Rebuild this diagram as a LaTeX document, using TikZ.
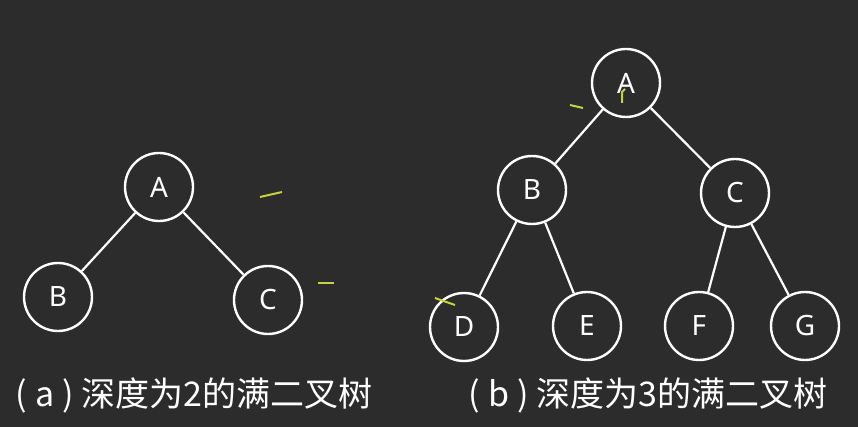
\documentclass[tikz,border=0pt]{standalone}
\usepackage{fontspec}
\setmainfont{Noto Sans}
\newfontfamily\cjk{Noto Sans CJK SC}
\definecolor{bg}{HTML}{2C2C2C}
\definecolor{mark}{HTML}{C8D23C}
\begin{document}
\begin{tikzpicture}[x=1pt,y=-1pt,
  tn/.style={circle,draw=white,line width=2.4pt,minimum size=68pt,inner sep=0pt,text=white,font=\fontsize{28}{28}\selectfont},
  edge/.style={draw=white,line width=2.2pt},
  captext/.style={text=white,anchor=west,inner sep=0pt,font=\cjk\fontsize{34}{34}\selectfont},
  ymark/.style={draw=mark,line width=2pt}]
\fill[bg] (0,0) rectangle (858,427);
\useasboundingbox (0,0) rectangle (858,427);
% tree a
\node[tn] (aA) at (159,187) {A};
\node[tn] (aB) at (58,297) {B};
\node[tn] (aC) at (268,300) {C};
\draw[edge] (aA) -- (aB);
\draw[edge] (aA) -- (aC);
% tree b
\node[tn] (bA) at (626,83) {A};
\node[tn] (bB) at (532,190) {B};
\node[tn] (bC) at (735,193) {C};
\node[tn] (bD) at (464,327) {D};
\node[tn] (bE) at (587,326) {E};
\node[tn] (bF) at (699,326) {F};
\node[tn] (bG) at (805,326) {G};
\draw[edge] (bA) -- (bB);
\draw[edge] (bA) -- (bC);
\draw[edge] (bB) -- (bD);
\draw[edge] (bB) -- (bE);
\draw[edge] (bC) -- (bF);
\draw[edge] (bC) -- (bG);
% captions
\node[captext] (capa) at (15,395) {(\hspace{9pt}a\hspace{8pt})\hspace{7pt}深度为2的满二叉树};
\node[captext] (capb) at (468,395) {(\hspace{9pt}b\hspace{8pt})\hspace{7pt}深度为3的满二叉树};
% pointer marks
\draw[ymark] (260,197) -- (282,192);
\draw[ymark] (318,283) -- (334,283);
\draw[ymark] (570,105) -- (583,108);
\draw[ymark] (435,298) -- (455,305);
\draw[ymark] (622,103) -- (622,92) -- (625,89);
\end{tikzpicture}
\end{document}
